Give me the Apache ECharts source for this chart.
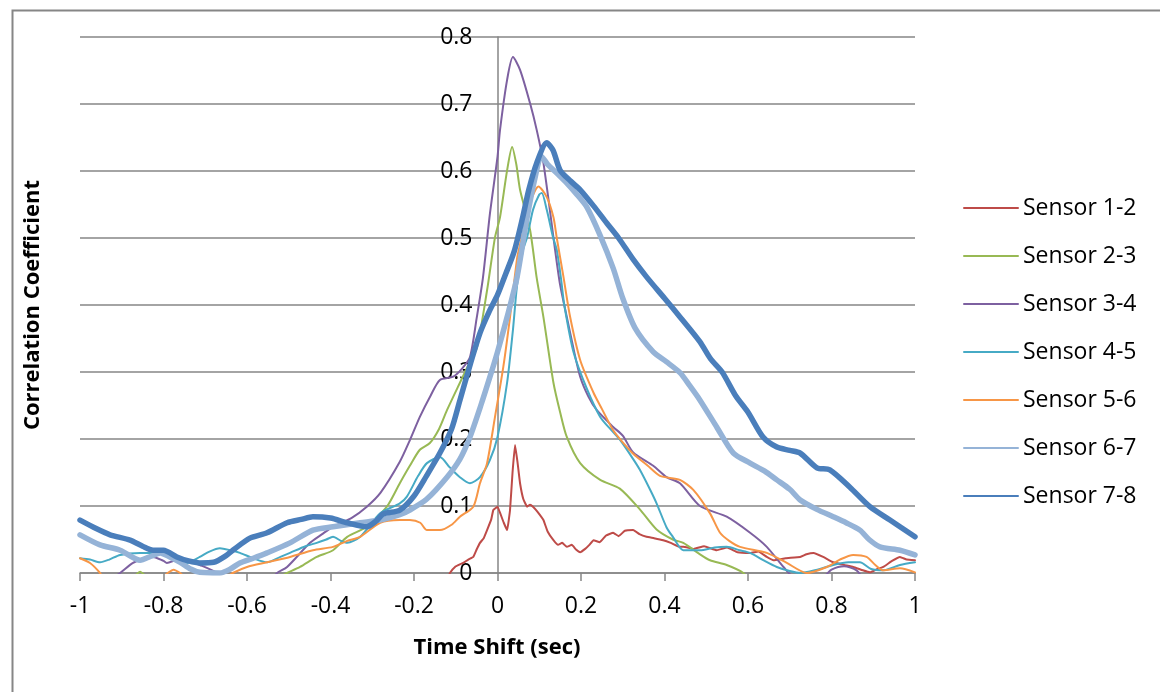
<!DOCTYPE html>
<html>
<head>
<meta charset="utf-8">
<script src="https://cdn.jsdelivr.net/npm/echarts@6/dist/echarts.min.js"></script>
<style>
html,body{margin:0;padding:0;background:#fff;}
#c{width:1160px;height:692px;}
</style>
</head>
<body>
<div id="c"></div>
<script>
// ---- Data (x = time shift in sec, y = correlation coefficient) ----
var seriesNames = ['Sensor 1-2','Sensor 2-3','Sensor 3-4','Sensor 4-5','Sensor 5-6','Sensor 6-7','Sensor 7-8'];
var seriesColors = ['#BE4B48','#98B954','#7D60A0','#46AAC5','#F79646','#95B3D7','#4A7EBB'];
var xTicks = [-1,-0.8,-0.6,-0.4,-0.2,0,0.2,0.4,0.6,0.8,1];
var yTicks = [0,0.1,0.2,0.3,0.4,0.5,0.6,0.7,0.8];

var sensor12 = [[-1,-0.05],[-0.12,-0.01],[-0.114,0.0],[-0.1,0.01],[-0.09,0.013],[-0.082,0.015],[-0.07,0.02],[-0.058,0.024],[-0.05,0.035],[-0.042,0.045],[-0.033,0.052],[-0.025,0.064],[-0.015,0.08],[-0.01,0.094],[0.0,0.099],[0.006,0.09],[0.015,0.075],[0.023,0.064],[0.03,0.094],[0.036,0.15],[0.042,0.191],[0.048,0.165],[0.054,0.134],[0.062,0.11],[0.071,0.099],[0.078,0.102],[0.085,0.099],[0.095,0.092],[0.11,0.079],[0.12,0.062],[0.134,0.049],[0.145,0.042],[0.155,0.045],[0.166,0.039],[0.178,0.042],[0.188,0.035],[0.198,0.031],[0.21,0.036],[0.22,0.042],[0.23,0.049],[0.245,0.046],[0.26,0.056],[0.277,0.060],[0.29,0.055],[0.305,0.063],[0.325,0.064],[0.34,0.058],[0.357,0.054],[0.375,0.052],[0.397,0.049],[0.415,0.045],[0.437,0.039],[0.445,0.039],[0.47,0.036],[0.495,0.04],[0.525,0.034],[0.55,0.038],[0.575,0.031],[0.605,0.030],[0.625,0.032],[0.645,0.024],[0.661,0.019],[0.69,0.022],[0.725,0.024],[0.74,0.028],[0.757,0.030],[0.78,0.024],[0.804,0.016],[0.83,0.012],[0.852,0.009],[0.875,0.004],[0.892,0.001],[0.91,0.006],[0.924,0.009],[0.945,0.018],[0.964,0.024],[0.98,0.02],[1.0,0.019]];

var sensor23 = [[-1,-0.05],[-0.87,-0.005],[-0.856,0.002],[-0.84,-0.005],[-0.6,-0.03],[-0.52,-0.005],[-0.504,0.0],[-0.473,0.009],[-0.433,0.024],[-0.394,0.034],[-0.36,0.054],[-0.313,0.069],[-0.265,0.099],[-0.234,0.134],[-0.21,0.16],[-0.186,0.184],[-0.162,0.194],[-0.14,0.215],[-0.121,0.243],[-0.09,0.284],[-0.07,0.31],[-0.049,0.337],[-0.025,0.422],[-0.006,0.501],[0.006,0.531],[0.023,0.601],[0.035,0.636],[0.045,0.61],[0.054,0.572],[0.078,0.512],[0.094,0.44],[0.11,0.382],[0.134,0.284],[0.15,0.24],[0.166,0.203],[0.198,0.164],[0.246,0.139],[0.293,0.126],[0.341,0.095],[0.381,0.065],[0.42,0.05],[0.445,0.045],[0.48,0.03],[0.509,0.019],[0.549,0.012],[0.589,0.0],[0.62,-0.02],[1,-0.05]];

var sensor34 = [[-1.0,-0.03],[-0.93,-0.01],[-0.904,0.0],[-0.873,0.015],[-0.845,0.022],[-0.825,0.024],[-0.80,0.018],[-0.792,0.015],[-0.765,0.02],[-0.744,0.019],[-0.713,0.012],[-0.672,0.0],[-0.64,-0.02],[-0.56,-0.02],[-0.528,0.0],[-0.504,0.009],[-0.449,0.045],[-0.42,0.058],[-0.394,0.069],[-0.35,0.082],[-0.313,0.099],[-0.28,0.12],[-0.234,0.166],[-0.21,0.198],[-0.186,0.233],[-0.16,0.265],[-0.138,0.288],[-0.106,0.293],[-0.085,0.305],[-0.066,0.322],[-0.05,0.38],[-0.035,0.44],[-0.018,0.537],[0.0,0.621],[0.006,0.661],[0.023,0.736],[0.037,0.770],[0.054,0.751],[0.078,0.701],[0.094,0.661],[0.11,0.612],[0.138,0.482],[0.15,0.43],[0.166,0.382],[0.182,0.335],[0.198,0.293],[0.218,0.263],[0.238,0.243],[0.277,0.218],[0.30,0.205],[0.325,0.18],[0.373,0.16],[0.405,0.143],[0.437,0.134],[0.485,0.10],[0.549,0.084],[0.605,0.06],[0.645,0.039],[0.685,0.009],[0.709,-0.005],[0.78,-0.005],[0.80,0.005],[0.83,0.01],[0.86,0.004],[0.88,-0.01],[1.0,-0.04]];

var sensor45 = [[-1.0,0.022],[-0.976,0.02],[-0.952,0.016],[-0.93,0.02],[-0.904,0.027],[-0.856,0.030],[-0.808,0.030],[-0.775,0.022],[-0.744,0.015],[-0.713,0.024],[-0.69,0.032],[-0.665,0.037],[-0.64,0.034],[-0.617,0.030],[-0.585,0.022],[-0.552,0.016],[-0.52,0.024],[-0.497,0.030],[-0.46,0.04],[-0.433,0.045],[-0.41,0.05],[-0.394,0.054],[-0.375,0.048],[-0.36,0.045],[-0.329,0.054],[-0.281,0.089],[-0.234,0.104],[-0.217,0.114],[-0.19,0.145],[-0.169,0.164],[-0.138,0.173],[-0.115,0.158],[-0.09,0.143],[-0.066,0.134],[-0.042,0.143],[-0.018,0.169],[0.0,0.203],[0.023,0.284],[0.037,0.363],[0.047,0.43],[0.061,0.482],[0.071,0.501],[0.085,0.542],[0.1,0.565],[0.106,0.567],[0.118,0.542],[0.133,0.501],[0.142,0.482],[0.152,0.44],[0.16,0.40],[0.182,0.33],[0.214,0.275],[0.246,0.233],[0.27,0.215],[0.293,0.199],[0.325,0.17],[0.341,0.154],[0.365,0.125],[0.381,0.104],[0.405,0.068],[0.42,0.054],[0.445,0.034],[0.485,0.034],[0.52,0.038],[0.549,0.039],[0.58,0.034],[0.605,0.030],[0.64,0.018],[0.669,0.009],[0.70,0.003],[0.725,0.0],[0.76,0.004],[0.804,0.012],[0.84,0.016],[0.868,0.016],[0.895,0.006],[0.924,0.004],[0.964,0.012],[1.0,0.016]];

var sensor56 = [[-1.0,0.022],[-0.976,0.015],[-0.952,0.0],[-0.93,-0.02],[-0.81,-0.01],[-0.79,0.0],[-0.776,0.005],[-0.76,0.0],[-0.74,-0.01],[-0.66,-0.01],[-0.634,0.0],[-0.6,0.009],[-0.552,0.016],[-0.497,0.024],[-0.442,0.034],[-0.394,0.039],[-0.36,0.048],[-0.329,0.054],[-0.281,0.075],[-0.234,0.079],[-0.21,0.079],[-0.185,0.075],[-0.169,0.064],[-0.138,0.064],[-0.11,0.072],[-0.09,0.084],[-0.058,0.099],[-0.042,0.134],[-0.025,0.164],[-0.006,0.233],[0.014,0.308],[0.03,0.382],[0.047,0.47],[0.054,0.49],[0.071,0.531],[0.083,0.561],[0.098,0.577],[0.118,0.561],[0.134,0.531],[0.142,0.50],[0.158,0.442],[0.174,0.382],[0.198,0.318],[0.23,0.269],[0.25,0.245],[0.277,0.213],[0.30,0.195],[0.325,0.178],[0.36,0.16],[0.389,0.145],[0.437,0.139],[0.469,0.124],[0.509,0.089],[0.533,0.060],[0.555,0.048],[0.581,0.039],[0.645,0.030],[0.693,0.015],[0.741,0.0],[0.789,0.009],[0.82,0.02],[0.852,0.027],[0.884,0.024],[0.905,0.012],[0.924,0.004],[0.964,0.007],[1.0,0.001]];

var sensor67 = [[-1.0,0.057],[-0.952,0.042],[-0.904,0.034],[-0.856,0.019],[-0.83,0.025],[-0.808,0.030],[-0.785,0.024],[-0.76,0.016],[-0.735,0.006],[-0.713,0.001],[-0.665,0.0],[-0.64,0.006],[-0.617,0.015],[-0.585,0.022],[-0.552,0.030],[-0.497,0.045],[-0.442,0.064],[-0.394,0.069],[-0.329,0.075],[-0.281,0.079],[-0.234,0.087],[-0.21,0.094],[-0.17,0.11],[-0.121,0.143],[-0.09,0.17],[-0.066,0.203],[-0.04,0.25],[-0.018,0.293],[0.0,0.33],[0.023,0.382],[0.047,0.442],[0.071,0.531],[0.09,0.59],[0.105,0.622],[0.12,0.61],[0.145,0.595],[0.166,0.582],[0.19,0.565],[0.214,0.546],[0.245,0.505],[0.277,0.455],[0.30,0.41],[0.33,0.365],[0.373,0.33],[0.405,0.315],[0.437,0.299],[0.46,0.28],[0.485,0.258],[0.525,0.218],[0.565,0.179],[0.605,0.164],[0.64,0.152],[0.669,0.139],[0.70,0.125],[0.725,0.109],[0.765,0.095],[0.804,0.084],[0.835,0.075],[0.868,0.064],[0.89,0.05],[0.916,0.039],[0.964,0.034],[1.0,0.027]];

var sensor78 = [[-1.0,0.079],[-0.96,0.066],[-0.928,0.057],[-0.88,0.049],[-0.85,0.040],[-0.825,0.034],[-0.80,0.034],[-0.768,0.024],[-0.74,0.018],[-0.713,0.015],[-0.68,0.016],[-0.65,0.026],[-0.634,0.034],[-0.593,0.052],[-0.552,0.060],[-0.504,0.075],[-0.47,0.080],[-0.442,0.084],[-0.40,0.082],[-0.36,0.075],[-0.313,0.069],[-0.29,0.078],[-0.274,0.088],[-0.234,0.094],[-0.20,0.115],[-0.17,0.145],[-0.138,0.179],[-0.11,0.215],[-0.09,0.258],[-0.065,0.312],[-0.042,0.358],[-0.02,0.39],[0.0,0.415],[0.02,0.447],[0.04,0.48],[0.06,0.53],[0.075,0.572],[0.094,0.612],[0.118,0.642],[0.133,0.631],[0.15,0.601],[0.175,0.585],[0.198,0.572],[0.23,0.548],[0.262,0.522],[0.29,0.50],[0.325,0.468],[0.357,0.442],[0.40,0.41],[0.44,0.38],[0.485,0.345],[0.51,0.32],[0.538,0.30],[0.57,0.265],[0.60,0.24],[0.636,0.203],[0.669,0.188],[0.70,0.183],[0.725,0.179],[0.765,0.157],[0.796,0.154],[0.844,0.128],[0.892,0.099],[0.94,0.079],[1.0,0.054]];

var seriesData = [sensor12, sensor23, sensor34, sensor45, sensor56, sensor67, sensor78];
var seriesWidths = [2, 2, 2, 2, 2, 5.5, 5.5];

var FONT = 'Open Sans';
var chart = echarts.init(document.getElementById('c'), null, {renderer: 'canvas'});

var series = seriesNames.map(function (n, i) {
  return {
    name: n,
    type: 'line',
    data: seriesData[i],
    showSymbol: false,
    symbol: 'none',
    smooth: i === 0 ? 0.1 : 0.25,
    clip: true,
    lineStyle: {color: seriesColors[i], width: seriesWidths[i], cap: 'round', join: 'round'},
    itemStyle: {color: seriesColors[i]},
    z: 3 + i
  };
});

chart.setOption({
  animation: false,
  backgroundColor: '#fff',
  grid: {left: 80, right: 245, top: 37, bottom: 119, containLabel: false},
  xAxis: {
    type: 'value', min: -1, max: 1, interval: 0.2,
    axisLine: {show: true, onZero: true, lineStyle: {color: '#868686', width: 1.5}},
    axisTick: {show: true, inside: false, length: 8, lineStyle: {color: '#868686', width: 1.5}},
    splitLine: {show: false},
    axisLabel: {
      margin: 22, color: '#000', fontFamily: FONT, fontSize: 23,
      formatter: function (v) { return String(parseFloat(v.toFixed(1))); }
    }
  },
  yAxis: {
    type: 'value', min: 0, max: 0.8, interval: 0.1,
    position: 'left',
    offset: -417.5,
    axisLine: {show: true, onZero: false, lineStyle: {color: '#868686', width: 1.5}},
    axisTick: {show: false},
    splitLine: {show: true, lineStyle: {color: '#868686', width: 1.5}},
    axisLabel: {
      margin: 25, color: '#000', fontFamily: FONT, fontSize: 23,
      formatter: function (v) { return v === 0 ? '0' : v.toFixed(1); }
    }
  },
  legend: {
    orient: 'vertical', left: 958, top: 191,
    itemWidth: 54, itemHeight: 14, itemGap: 24,
    itemStyle: {opacity: 0},
    textStyle: {color: '#000', fontFamily: FONT, fontSize: 23, lineHeight: 24},
    data: seriesNames
  },
  graphic: [
    {type: 'rect', left: 10, top: 8, shape: {width: 1200, height: 800},
     style: {fill: 'none', stroke: '#868686', lineWidth: 2}, silent: true, z: -10},
    {type: 'text', x: 497, y: 648,
     style: {text: 'Time Shift (sec)', font: 'bold 22px "Open Sans"', fill: '#000', textAlign: 'center', textVerticalAlign: 'middle'}},
    {type: 'text', x: 33, y: 305, rotation: Math.PI / 2,
     style: {text: 'Correlation Coefficient', font: 'bold 22px "Open Sans"', fill: '#000', textAlign: 'center', textVerticalAlign: 'middle'}}
  ],
  series: series
});
</script>
</body>
</html>
